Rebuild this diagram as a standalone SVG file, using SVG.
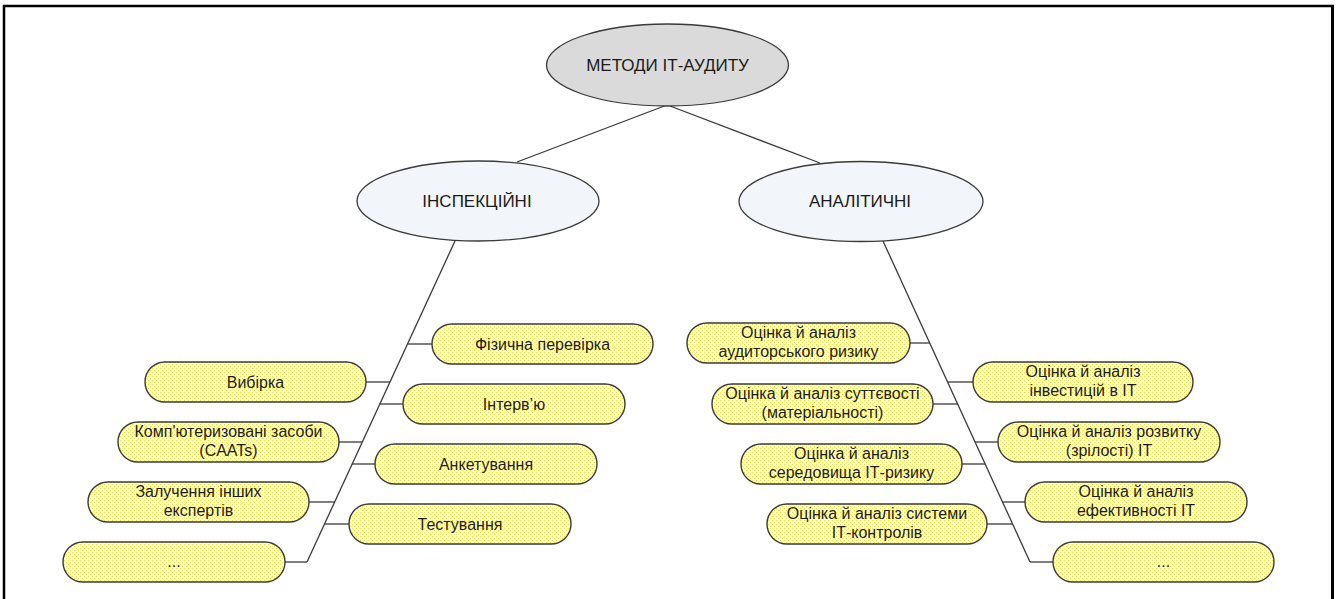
<svg xmlns="http://www.w3.org/2000/svg" width="1336" height="599" viewBox="0 0 1336 599">
<style>
text{font-family:"Liberation Sans",Arial,sans-serif;fill:#1a1a1a;text-anchor:middle}
.big{font-size:17px}
.t{font-size:16px}
.box{fill:url(#dots);stroke:#3a3a3a;stroke-width:1.4}
.ell{stroke:#3a3a3a;stroke-width:1.3}
#connectors line{stroke:#3a3a3a;stroke-width:1.3}
</style>
<defs>
<pattern id="dots" width="4" height="4" patternUnits="userSpaceOnUse">
<rect width="4" height="4" fill="#fffef4"/>
<rect x="0" y="0" width="1.2" height="1.2" fill="#f2e325"/>
<rect x="2" y="2" width="1.2" height="1.2" fill="#f2e325"/>
</pattern>
</defs>
<rect width="1336" height="599" fill="#ffffff"/>
<g id="frame" stroke="#000" fill="none">
<line x1="3" y1="6" x2="1334" y2="6" stroke-width="2.5"/>
<line x1="4" y1="5" x2="4" y2="599" stroke-width="2.5"/>
<line x1="1332.5" y1="5" x2="1332.5" y2="599" stroke-width="3"/>
</g>
<g id="connectors">
<line x1="667" y1="105" x2="517" y2="162"/>
<line x1="670" y1="106" x2="820" y2="163"/>
<line x1="455" y1="241" x2="307" y2="562"/>
<line x1="407.5" y1="344" x2="432" y2="344"/>
<line x1="366" y1="382" x2="390" y2="382"/>
<line x1="380" y1="404" x2="403" y2="404"/>
<line x1="339" y1="442" x2="362" y2="442"/>
<line x1="352" y1="464" x2="375" y2="464"/>
<line x1="309" y1="502" x2="334.5" y2="502"/>
<line x1="324.5" y1="524" x2="349" y2="524"/>
<line x1="285" y1="562" x2="307" y2="562"/>
<line x1="883" y1="241" x2="1030" y2="562"/>
<line x1="910" y1="343" x2="929.7" y2="343"/>
<line x1="947.6" y1="382" x2="973" y2="382"/>
<line x1="933" y1="404" x2="957.7" y2="404"/>
<line x1="975" y1="442" x2="998" y2="442"/>
<line x1="962" y1="464" x2="985" y2="464"/>
<line x1="1002.5" y1="502" x2="1025" y2="502"/>
<line x1="987" y1="524" x2="1012.6" y2="524"/>
<line x1="1030" y1="562" x2="1053" y2="562"/>
</g>
<g id="root">
<ellipse class="ell" cx="667.5" cy="65" rx="121" ry="41" fill="#dadada"/>
<text class="big" x="667.5" y="71">МЕТОДИ ІТ-АУДИТУ</text>
</g>
<g id="inspection">
<ellipse class="ell" cx="478" cy="201" rx="121" ry="40" fill="#f2f5f9"/>
<text class="big" x="477" y="207">ІНСПЕКЦІЙНІ</text>
</g>
<g id="analytical">
<ellipse class="ell" cx="861" cy="201.5" rx="122" ry="40" fill="#f2f5f9"/>
<text class="big" x="860" y="207">АНАЛІТИЧНІ</text>
</g>
<g id="physical">
<rect class="box" x="432" y="324" width="221" height="40" rx="20"/>
<text class="t" x="542.5" y="349.5">Фізична перевірка</text>
</g>
<g id="sampling">
<rect class="box" x="145" y="362" width="221" height="40" rx="20"/>
<text class="t" x="255.5" y="387.5">Вибірка</text>
</g>
<g id="interview">
<rect class="box" x="403" y="384" width="222" height="40" rx="20"/>
<text class="t" x="514" y="409.5">Інтерв’ю</text>
</g>
<g id="caats">
<rect class="box" x="118" y="422" width="221" height="40" rx="20"/>
<text class="t" x="228.5" y="437">Комп'ютеризовані засоби</text>
<text class="t" x="228.5" y="456">(CAATs)</text>
</g>
<g id="survey">
<rect class="box" x="375" y="444" width="222" height="40" rx="20"/>
<text class="t" x="486" y="469.5">Анкетування</text>
</g>
<g id="experts">
<rect class="box" x="88" y="482" width="221" height="40" rx="20"/>
<text class="t" x="198.5" y="497">Залучення інших</text>
<text class="t" x="198.5" y="516">експертів</text>
</g>
<g id="testing">
<rect class="box" x="349" y="504" width="222" height="40" rx="20"/>
<text class="t" x="460" y="529.5">Тестування</text>
</g>
<g id="more-left">
<rect class="box" x="63" y="542" width="222" height="40" rx="20"/>
<text class="t" x="174" y="567">...</text>
</g>
<g id="audit-risk">
<rect class="box" x="687" y="323" width="223" height="40" rx="20"/>
<text class="t" x="798.5" y="338">Оцінка й аналіз</text>
<text class="t" x="798.5" y="357">аудиторського ризику</text>
</g>
<g id="investments">
<rect class="box" x="973" y="362" width="220" height="40" rx="20"/>
<text class="t" x="1083" y="377">Оцінка й аналіз</text>
<text class="t" x="1083" y="396">інвестицій в ІТ</text>
</g>
<g id="materiality">
<rect class="box" x="712" y="384" width="221" height="40" rx="20"/>
<text class="t" x="822.5" y="399">Оцінка й аналіз суттєвості</text>
<text class="t" x="822.5" y="418">(матеріальності)</text>
</g>
<g id="maturity">
<rect class="box" x="998" y="422" width="222" height="40" rx="20"/>
<text class="t" x="1109" y="437">Оцінка й аналіз розвитку</text>
<text class="t" x="1109" y="456">(зрілості) ІТ</text>
</g>
<g id="environment">
<rect class="box" x="741" y="444" width="221" height="40" rx="20"/>
<text class="t" x="851.5" y="459">Оцінка й аналіз</text>
<text class="t" x="851.5" y="478">середовища ІТ-ризику</text>
</g>
<g id="efficiency">
<rect class="box" x="1025" y="482" width="222" height="40" rx="20"/>
<text class="t" x="1136" y="497">Оцінка й аналіз</text>
<text class="t" x="1136" y="516">ефективності ІТ</text>
</g>
<g id="controls">
<rect class="box" x="767" y="504" width="220" height="40" rx="20"/>
<text class="t" x="877" y="519">Оцінка й аналіз системи</text>
<text class="t" x="877" y="538">ІТ-контролів</text>
</g>
<g id="more-right">
<rect class="box" x="1053" y="542" width="221" height="40" rx="20"/>
<text class="t" x="1163.5" y="567">...</text>
</g>
</svg>
